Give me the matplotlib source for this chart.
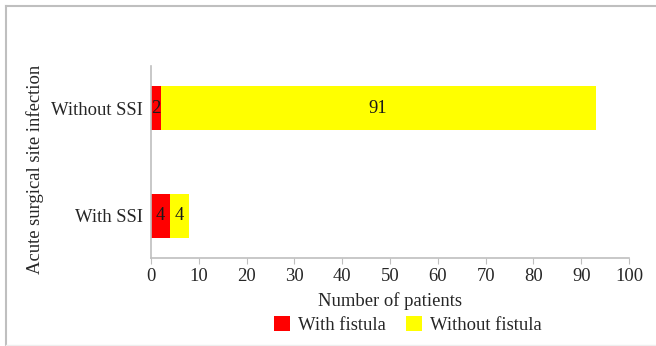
import matplotlib.pyplot as plt
from matplotlib.lines import Line2D

groups = ["With SSI", "Without SSI"]
with_fistula = [4, 2]
without_fistula = [4, 91]
legend_names = ["With fistula", "Without fistula"]
xticks = [0, 10, 20, 30, 40, 50, 60, 70, 80, 90, 100]

plt.rcParams['font.family'] = ['Liberation Serif', 'DejaVu Serif']
grey = "#bfbfbf"
fs = 13.4

fig = plt.figure(figsize=(6.56, 3.46), dpi=100)
ax = fig.add_axes([151/656, 88/346, 478/656, 192/346])

ypos = list(range(len(groups)))
b1 = ax.barh(ypos, with_fistula, height=0.407, color="#ff0000", label=legend_names[0])
b2 = ax.barh(ypos, without_fistula, left=with_fistula, height=0.407, color="#ffff00",
             label=legend_names[1])

for bars in (b1, b2):
    ax.bar_label(bars, label_type="center", fontsize=fs, color="#1a1a1a")

ax.set_xlim(0, 100)
ax.set_ylim(-0.389, 1.389)
ax.set_xticks(xticks)
ax.set_yticks(ypos)
ax.set_yticklabels(groups)
ax.tick_params(axis="x", length=4, color=grey, labelsize=fs, pad=3, labelcolor="#262626")
ax.tick_params(axis="y", length=0, labelsize=fs, pad=6, labelcolor="#262626")

for s in ("top", "right"):
    ax.spines[s].set_visible(False)
ax.spines["left"].set_color(grey)
ax.spines["bottom"].set_color(grey)
ax.spines["left"].set_linewidth(1.2)
ax.spines["bottom"].set_linewidth(1.2)

ax.set_xlabel("Number of patients", fontsize=fs, labelpad=5, color="#262626")
fig.text(35/656, 1 - 169/346, "Acute surgical site infection", rotation=90,
         ha="center", va="center", fontsize=fs, color="#262626")

fig.legend(handles=[b1, b2], loc="center", bbox_to_anchor=(408/656, 1 - 325/346),
           ncol=2, frameon=False, fontsize=fs, handlelength=0.85, handleheight=0.85,
           columnspacing=1.1, handletextpad=0.43, labelcolor="#262626")

# outer frame: left and top edges, faint bottom edge
fig.add_artist(Line2D([5.5/656, 5.5/656], [0, 1 - 5.5/346], transform=fig.transFigure,
                      color=grey, linewidth=1.5))
fig.add_artist(Line2D([5.5/656, 1], [1 - 5.5/346, 1 - 5.5/346], transform=fig.transFigure,
                      color=grey, linewidth=1.5))
fig.add_artist(Line2D([5.5/656, 1], [1.5/346, 1.5/346], transform=fig.transFigure,
                      color="#eeeeee", linewidth=1.0))

fig.savefig("out.png", dpi=100)
